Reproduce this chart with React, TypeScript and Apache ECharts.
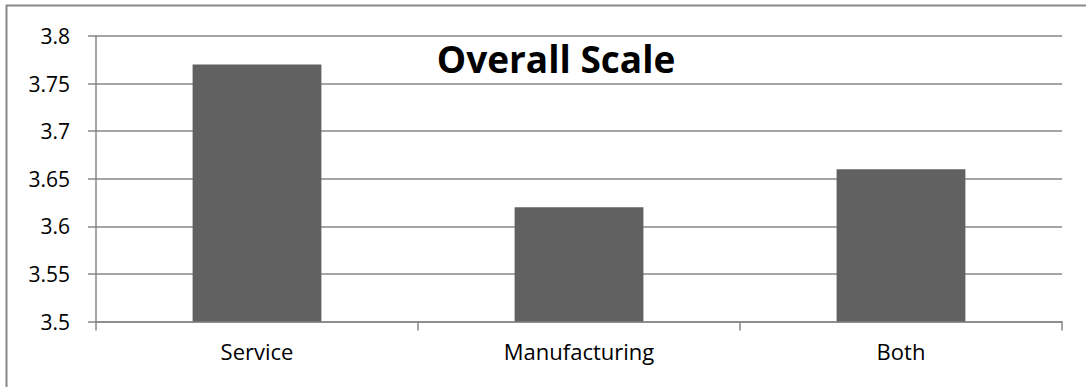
import React, { useEffect, useRef } from "react";
import * as echarts from "echarts";

const categories = ["Service", "Manufacturing", "Both"];
const values = [3.77, 3.62, 3.66];
const yMin = 3.5;
const yMax = 3.8;
const yStep = 0.05;
const titleText = "Overall Scale";

export default function App() {
  const ref = useRef<HTMLDivElement>(null);

  useEffect(() => {
    if (!ref.current) return;
    const chart = echarts.init(ref.current, undefined, { renderer: "svg" });
    const gray = "#878787";
    const font = "'Open Sans', 'Noto Sans', sans-serif";
    chart.setOption({
      animation: false,
      backgroundColor: "#ffffff",
      title: {
        text: titleText,
        left: 551,
        top: 35,
        textAlign: "center",
        textStyle: { fontFamily: font, fontWeight: "bold", fontSize: 37, color: "#000" },
      },
      grid: { left: 96, top: 36, right: 24, bottom: 65.5, containLabel: false },
      xAxis: {
        type: "category",
        data: categories,
        boundaryGap: true,
        axisLine: { lineStyle: { color: gray, width: 1.5 } },
        axisTick: { show: true, length: 9, lineStyle: { color: gray, width: 1.5 } },
        axisLabel: { color: "#000", fontFamily: font, fontSize: 22, margin: 18 },
      },
      yAxis: {
        type: "value",
        min: yMin,
        max: yMax,
        interval: yStep,
        axisLine: { show: true, lineStyle: { color: gray, width: 1.5 } },
        axisTick: { show: true, length: 8, lineStyle: { color: gray, width: 1.5 } },
        splitLine: { show: true, lineStyle: { color: gray, width: 1.5 } },
        axisLabel: {
          color: "#000",
          fontFamily: font,
          fontSize: 21,
          margin: 26,
          formatter: (v: number) => String(+v.toFixed(2)),
        },
      },
      series: [
        {
          type: "bar",
          data: values,
          barWidth: "40%",
          itemStyle: { color: "#616161" },
        },
      ],
      graphic: [
        {
          type: "rect",
          shape: { x: 6.5, y: 5.5, width: 1100, height: 400 },
          style: { fill: "none", stroke: gray, lineWidth: 2 },
          silent: true,
          z: 100,
        },
      ],
    });
    return () => chart.dispose();
  }, []);

  return (
    <div
      ref={ref}
      style={{ position: "absolute", left: 0, top: 0, width: 1086, height: 387 }}
    />
  );
}
